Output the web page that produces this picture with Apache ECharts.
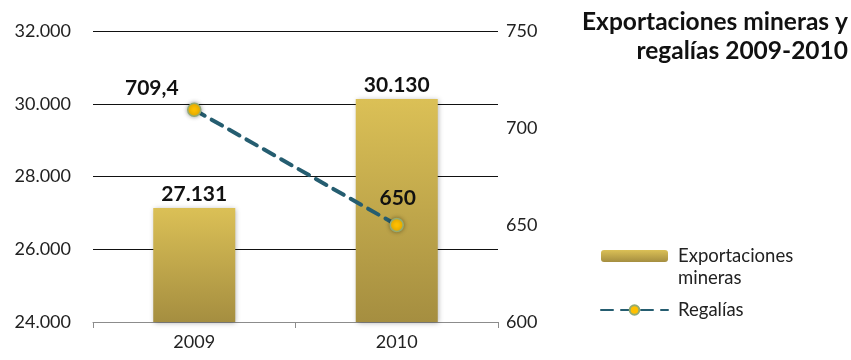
<!DOCTYPE html>
<html>
<head>
<meta charset="utf-8">
<script src="https://cdn.jsdelivr.net/npm/echarts@6/dist/echarts.min.js"></script>
<style>
  html, body { margin: 0; padding: 0; background: #fff; }
  #chart { width: 851px; height: 360px; }
</style>
</head>
<body>
<div id="chart"></div>
<script>
// datos
const years = ['2009', '2010'];
const exportaciones = [27131, 30130];
const regalias = [709.4, 650];
const exportLabels = ['27.131', '30.130'];
const regaliaLabels = ['709,4', '650'];

const chart = echarts.init(document.getElementById('chart'));
const font = 'Lato';

const option = {
  backgroundColor: '#fff',
  textStyle: { fontFamily: font },
  title: {
    text: 'Exportaciones mineras y\nregalías 2009-2010',
    right: 'right',
    top: 'top',
    padding: [8, 3, 5, 5],
    textStyle: { fontFamily: font, fontSize: 24.5, fontWeight: 'bold', color: '#111', lineHeight: 29 }
  },
  legend: {
    orient: 'vertical',
    left: 595,
    top: 218,
    itemWidth: 67,
    itemHeight: 12,
    itemGap: 10,
    textStyle: { fontFamily: font, fontSize: 18.5, color: '#222', lineHeight: 22, padding: [0, 0, 0, 5] },
    data: ['Exportaciones mineras', 'Regalías'],
    // linea vacia arriba para que "Exportaciones" quede a la altura del icono
    formatter: function (n) { return n === 'Exportaciones mineras' ? ' \nExportaciones\nmineras' : n; }
  },
  grid: { left: 93, right: 353, top: 31, bottom: 38 },
  xAxis: {
    type: 'category',
    data: years,
    axisLine: { lineStyle: { color: '#8c8c8c', width: 1 } },
    axisTick: { show: true, length: 6, lineStyle: { color: '#8c8c8c' } },
    axisLabel: { color: '#222', fontSize: 18, margin: 11, fontFamily: font }
  },
  yAxis: [
    {
      type: 'value',
      min: 24000,
      max: 32000,
      interval: 2000,
      axisLine: { show: false },
      axisTick: { show: false },
      splitLine: { lineStyle: { color: '#111', width: 1.2 } },
      axisLabel: {
        color: '#222', fontSize: 18, margin: 22, fontFamily: font,
        formatter: function (v) { return (v / 1000).toFixed(3); }
      }
    },
    {
      type: 'value',
      min: 600,
      max: 750,
      interval: 50,
      axisLine: { show: false },
      axisTick: { show: false },
      splitLine: { show: false },
      axisLabel: { color: '#222', fontSize: 18, margin: 8, fontFamily: font }
    }
  ],
  series: [
    {
      name: 'Exportaciones mineras',
      type: 'bar',
      data: exportaciones,
      barWidth: 82,
      itemStyle: {
        color: new echarts.graphic.LinearGradient(0, 0, 0, 1, [
          { offset: 0, color: '#dbc056' },
          { offset: 1, color: '#a58e40' }
        ]),
        shadowBlur: 5,
        shadowColor: 'rgba(0,0,0,0.3)',
        shadowOffsetX: 1,
        shadowOffsetY: 1
      },
      label: {
        show: true,
        position: 'top',
        distance: 3,
        fontFamily: font,
        fontSize: 21,
        fontWeight: 'bold',
        color: '#111',
        formatter: function (p) { return exportLabels[p.dataIndex]; }
      }
    },
    {
      name: 'Regalías',
      type: 'line',
      yAxisIndex: 1,
      data: regalias,
      symbol: 'circle',
      symbolSize: 13,
      lineStyle: { color: '#255d70', width: 4, type: [12, 8], cap: 'round' },
      itemStyle: {
        color: '#ffc000',
        borderColor: '#94ab72',
        borderWidth: 1.5,
        shadowBlur: 4,
        shadowColor: 'rgba(0,0,0,0.35)'
      },
      label: {
        show: true,
        fontFamily: font,
        fontSize: 21,
        fontWeight: 'bold',
        color: '#111',
        formatter: function (p) { return regaliaLabels[p.dataIndex]; }
      },
      labelLayout: function (params) {
        if (params.dataIndex === 0) {
          return { x: params.rect.x - 62, y: params.rect.y - 25 };
        }
        return { x: params.rect.x - 10, y: params.rect.y - 30 };
      }
    }
  ]
};

chart.setOption(option);
window.addEventListener('resize', () => { chart.resize(); });
</script>
</body>
</html>
